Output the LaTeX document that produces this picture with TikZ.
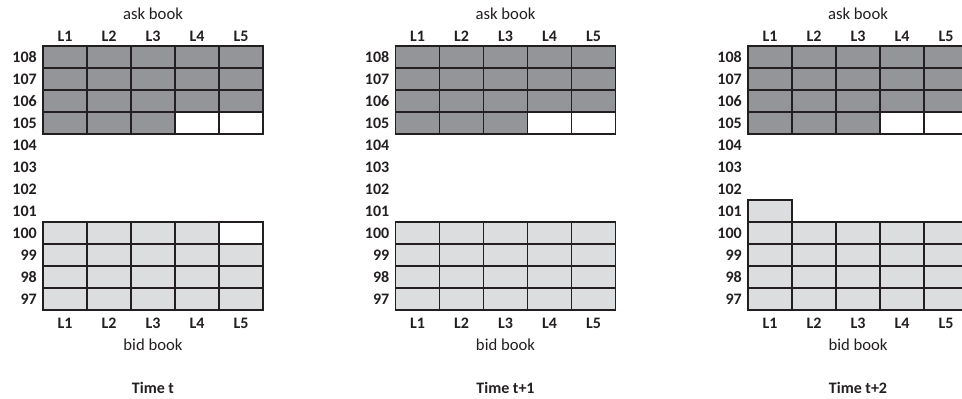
\documentclass[tikz,border=0pt]{standalone}
\usepackage{fontspec}
\setmainfont{Carlito}
\usepackage{tikz}
\usetikzlibrary{positioning}
\definecolor{askgray}{HTML}{939598}
\definecolor{bidgray}{HTML}{DCDDDE}
\definecolor{gridline}{HTML}{231F20}
\tikzset{
    cell/.style={draw=gridline, line width=1.4pt, minimum width=33pt, minimum height=16.5pt, inner sep=0pt, outer sep=0pt},
    lvl/.style={font=\bfseries\fontsize{12}{14}\selectfont, text=gridline, inner sep=0pt},
    price/.style={lvl, anchor=east},
    book/.style={font=\fontsize{12.5}{15}\selectfont, text=gridline, inner sep=0pt},
    timelabel/.style={lvl}
}
\begin{document}
\begin{tikzpicture}[x=0.75pt, y=-0.75pt]
    \clip (0,0) rectangle (962,399);
    \foreach \p/\ox/\tlabel in {1/43/{Time t}, 2/395.5/{Time t+1}, 3/748/{Time t+2}} {
        % ask book cells
        \foreach \r in {105,...,108} {
            \foreach \c in {1,...,5} {
                \def\fillcol{askgray}
                \ifnum\r=105 \ifnum\c>3 \def\fillcol{white}\fi\fi
                \node[cell, fill=\fillcol] (p\p-a\r-\c) at ({\ox+44*\c-22}, {57+22*(108-\r)}) {};
            }
        }
        % bid book cells
        \foreach \r in {97,...,100} {
            \foreach \c in {1,...,5} {
                \def\fillcol{bidgray}
                \ifnum\p=1 \ifnum\r=100 \ifnum\c=5 \def\fillcol{white}\fi\fi\fi
                \node[cell, fill=\fillcol] (p\p-b\r-\c) at ({\ox+44*\c-22}, {57+22*(108-\r)}) {};
            }
        }
        % level labels
        \foreach \c in {1,...,5} {
            \node[lvl] (p\p-top\c) at ({\ox+44*\c-22}, 36) {L\c};
            \node[lvl] (p\p-bot\c) at ({\ox+44*\c-22}, 323) {L\c};
        }
        % price labels
        \foreach \r in {97,...,108} {
            \node[price] (p\p-r\r) at ({\ox-6}, {57+22*(108-\r)}) {\r};
        }
        \node[book] (p\p-askbook) at ({\ox+110}, 14) {ask book};
        \node[book] (p\p-bidbook) at ({\ox+110}, 345) {bid book};
        \node[timelabel] (p\p-time) at ({\ox+110}, 388) {\tlabel};
    }
    % new bid at 101
    \node[cell, fill=bidgray] (p3-b101-1) at (770, 211) {};
\end{tikzpicture}
\end{document}
